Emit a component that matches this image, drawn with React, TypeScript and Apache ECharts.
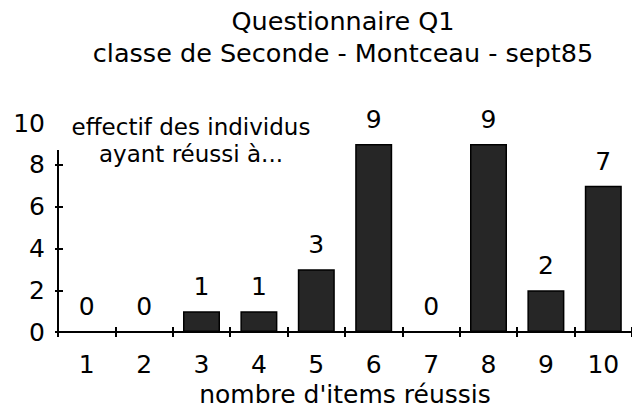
import React, { useEffect, useRef } from "react";
import * as echarts from "echarts";

const categories = ["1", "2", "3", "4", "5", "6", "7", "8", "9", "10"];
const effectifs = [0, 0, 1, 1, 3, 9, 0, 9, 2, 7];
const titleLines = ["Questionnaire Q1", "classe de Seconde - Montceau - sept85"];
const yName = "effectif des individus\nayant réussi à...";
const xName = "nombre d'items réussis";

const FONT = "DejaVu Sans";
const FS = 25;
const TFS = 25.5;
const YNFS = 23;

export default function App() {
  const ref = useRef<HTMLDivElement>(null);
  useEffect(() => {
    if (!ref.current) return;
    const chart = echarts.init(ref.current, null, { renderer: "svg" });
    const axisText = { fontFamily: FONT, fontSize: FS, color: "#000" };
    chart.setOption({
      animation: false,
      backgroundColor: "#fff",
      grid: { left: 58, right: 0, top: 123, bottom: 72, containLabel: false },
      xAxis: [
        {
          type: "category",
          data: categories,
          axisLine: { show: true, lineStyle: { color: "#000", width: 2 } },
          axisTick: { show: true, inside: false, length: 5, lineStyle: { color: "#000", width: 2 } },
          axisLabel: { ...axisText, margin: 20 },
          name: xName,
          nameLocation: "middle",
          nameGap: 49,
          nameTextStyle: { ...axisText },
        },
        {
          type: "category",
          data: categories,
          position: "bottom",
          axisLine: { show: false },
          axisTick: { show: true, inside: true, length: 5, lineStyle: { color: "#000", width: 2 } },
          axisLabel: { show: false },
        },
      ],
      yAxis: [
        {
          type: "value",
          min: 0,
          max: 10,
          interval: 2,
          axisLine: { show: true, lineStyle: { color: "#000", width: 2 } },
          axisTick: { show: true, inside: false, length: 3, lineStyle: { color: "#000", width: 2 } },
          axisLabel: { ...axisText, margin: 13 },
          splitLine: { show: false },
        },
        {
          type: "value",
          min: 0,
          max: 10,
          interval: 2,
          position: "left",
          axisLine: { show: false },
          axisTick: { show: true, inside: true, length: 5, lineStyle: { color: "#000", width: 2 } },
          axisLabel: { show: false },
          splitLine: { show: false },
        },
      ],
      series: [
        {
          type: "bar",
          data: effectifs,
          barWidth: 37,
          itemStyle: { color: "#262626", borderColor: "#000", borderWidth: 1.5 },
          label: {
            show: true,
            position: "top",
            distance: 12,
            fontFamily: FONT,
            fontSize: FS,
            color: "#000",
          },
        },
      ],
      graphic: [
        {
          type: "text",
          x: 343,
          y: 21,
          style: { text: titleLines[0], fontFamily: FONT, fontSize: TFS, fill: "#000", textAlign: "center", textVerticalAlign: "middle" },
        },
        {
          type: "text",
          x: 343,
          y: 53,
          style: { text: titleLines[1], fontFamily: FONT, fontSize: TFS, fill: "#000", textAlign: "center", textVerticalAlign: "middle" },
        },
        {
          type: "rect",
          z: 100,
          shape: { x: 50, y: 108, width: 282, height: 42 },
          style: { fill: "#fff" },
        },
        {
          type: "text",
          z: 101,
          x: 191,
          y: 140.5,
          style: {
            text: yName,
            fontFamily: FONT,
            fontSize: YNFS,
            lineHeight: 27,
            fill: "#000",
            textAlign: "center",
            textVerticalAlign: "middle",
          },
        },
      ],
    });
    return () => chart.dispose();
  }, []);
  return (
    <div
      ref={ref}
      style={{ position: "fixed", left: 0, top: 0, width: 632, height: 412, background: "#fff" }}
    />
  );
}
